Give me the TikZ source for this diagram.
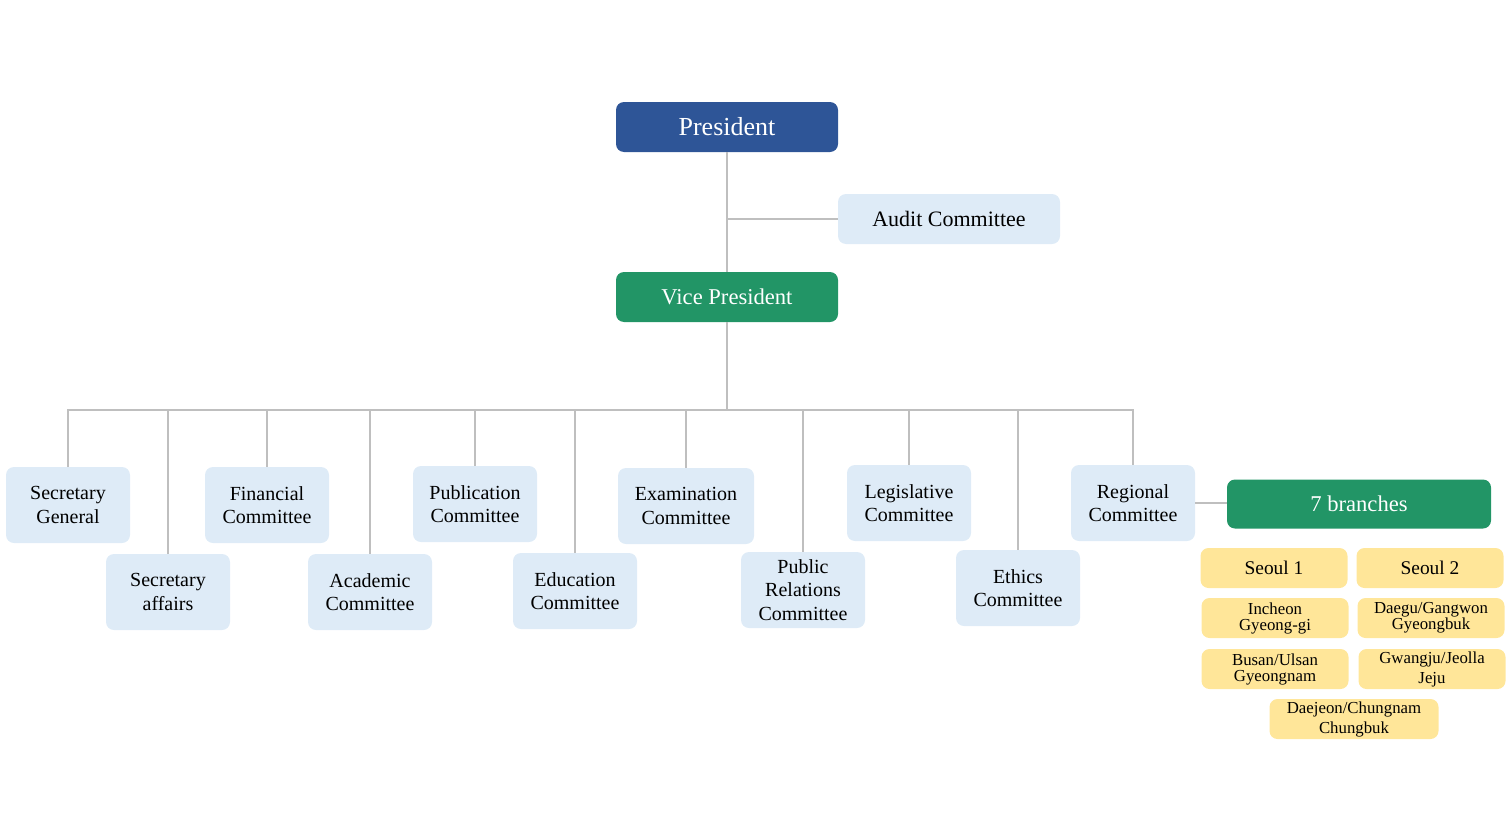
\documentclass[tikz,border=0pt]{standalone}
\usepackage{fontspec}
\setmainfont{Liberation Serif}
\usetikzlibrary{calc}
\definecolor{presblue}{HTML}{2E5597}
\definecolor{vpgreen}{HTML}{229566}
\definecolor{commblue}{HTML}{DEEBF7}
\definecolor{regionyellow}{HTML}{FFE699}
\definecolor{linegray}{HTML}{BFBFBF}
\tikzset{
  box/.style={rounded corners=4pt, inner sep=0pt, align=center},
  head/.style={box, text=white, minimum width=111pt, minimum height=25pt},
  comm/.style={box, fill=commblue, minimum width=62pt, minimum height=38pt,
    font=\fontsize{10}{11.6}\selectfont},
  region/.style={box, fill=regionyellow, minimum width=73.5pt, minimum height=20pt,
    font=\fontsize{8.4}{8}\selectfont},
  link/.style={draw=linegray, line width=1pt}
}
\newcommand{\committee}[3]{
  \node[comm] (#1) at (#2) {#3};% one committee box
}
\begin{document}
\begin{tikzpicture}[x=0.5pt,y=-0.5pt]
    \useasboundingbox (0,0) rectangle (1510,819);

    % top of the chart
    \node[head, fill=presblue, font=\fontsize{13}{15}\selectfont] (pres) at (727,127) {President};
    \node[head, fill=vpgreen, font=\fontsize{11.3}{13}\selectfont] (vp) at (727,297) {Vice President};
    \node[box, fill=commblue, minimum width=111pt, minimum height=25pt,
      font=\fontsize{11}{13}\selectfont] (audit) at (949,219) {Audit Committee};

    % committees, upper row
    \committee{secgen}{68,505}{Secretary\\General}
    \committee{fin}{267,505}{Financial\\Committee}
    \committee{pub}{475,504}{Publication\\Committee}
    \node[comm, minimum width=68pt] (exam) at (686,506) {Examination\\Committee};
    \committee{legis}{909,503}{Legislative\\Committee}
    \committee{reg}{1133,503}{Regional\\Committee}

    % committees, lower row
    \committee{secaff}{168,592}{Secretary\\affairs}
    \committee{acad}{370,592}{Academic\\Committee}
    \committee{edu}{575,591}{Education\\Committee}
    \committee{pr}{803,590}{Public\\Relations\\Committee}
    \committee{ethics}{1018,588}{Ethics\\Committee}

    % branches
    \node[box, fill=vpgreen, text=white, minimum width=132pt, minimum height=24.5pt,
      font=\fontsize{11.3}{13}\selectfont] (branches) at (1359,504) {7 branches};
    \node[region, font=\fontsize{9.7}{11}\selectfont] (seoul1) at (1274,568) {Seoul 1};
    \node[region, font=\fontsize{9.7}{11}\selectfont] (seoul2) at (1430,568) {Seoul 2};
    \node[region] (incheon) at (1275,618) {Incheon\\Gyeong-gi};
    \node[region] (daegu) at (1431,618) {Daegu/Gangwon\\Gyeongbuk};
    \node[region] (busan) at (1275,669) {Busan/Ulsan\\Gyeongnam};
    \node[region, font=\fontsize{8.4}{10}\selectfont] (gwangju) at (1432,669) {Gwangju/Jeolla\\Jeju};
    \node[region, minimum width=84.5pt, font=\fontsize{8.4}{10}\selectfont] (daejeon) at (1354,719) {Daejeon/Chungnam\\Chungbuk};

    % connectors
    \coordinate (bus) at (727,410);
    \draw[link] (pres.south) -- (vp.north);
    \draw[link] (audit.west) -- (audit.west -| pres.south);
    \draw[link] (vp.south) -- (bus);
    \foreach \n in {secgen,secaff,fin,acad,pub,edu,exam,pr,legis,ethics,reg}{
      \draw[link] (bus) -| (\n.north);
    }
    \draw[link] (reg.east) -- (reg.east -| branches.west);
\end{tikzpicture}
\end{document}
